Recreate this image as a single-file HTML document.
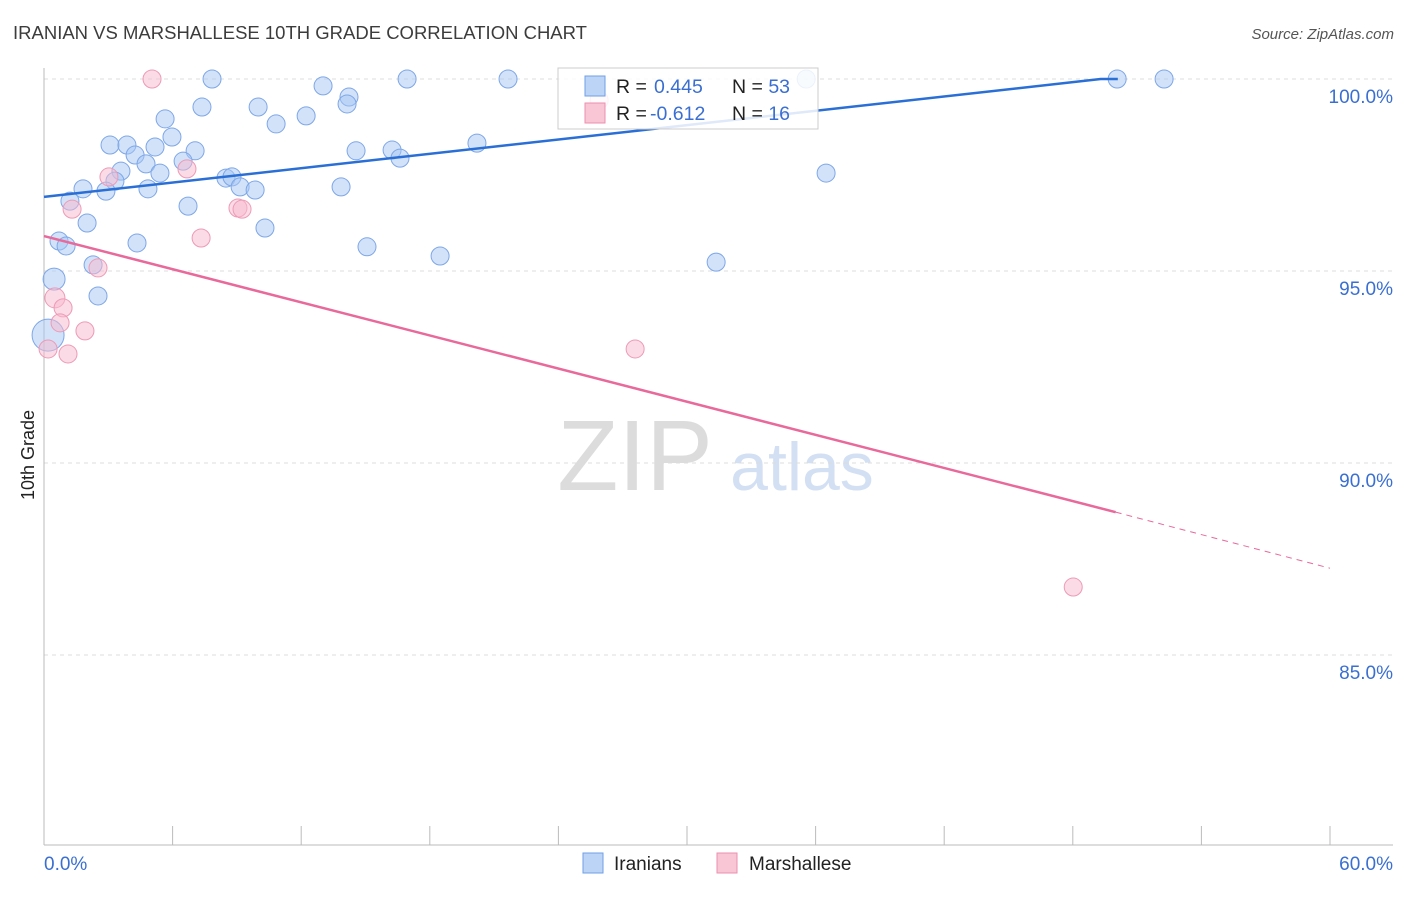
<!DOCTYPE html>
<html><head><meta charset="utf-8"><style>
body{margin:0;background:#fff;font-family:"Liberation Sans",sans-serif;}
svg text{font-family:"Liberation Sans",sans-serif;}
</style></head><body>
<svg id="c" width="1406" height="892">
<text x="13" y="39" font-size="18.5" fill="#3c3c3c">IRANIAN VS MARSHALLESE 10TH GRADE CORRELATION CHART</text>
<text x="1394" y="39" font-size="15" font-style="italic" fill="#555" text-anchor="end">Source: ZipAtlas.com</text>
<text x="635" y="490" font-size="100" font-family="Liberation Serif,serif" fill="#dcdcdc" text-anchor="middle">ZIP</text>
<text x="802" y="490" font-size="68" fill="#d3e0f3" text-anchor="middle">atlas</text>
<text transform="translate(34,455) rotate(-90)" font-size="18" fill="#222" text-anchor="middle">10th Grade</text>
<g id="grid"></g><g id="pts"></g><g id="lines"></g>
<g>
<rect x="558" y="68" width="260" height="61" fill="rgba(255,255,255,0.85)" stroke="#ccc"/>
<rect x="585" y="76" width="20" height="20" fill="#bcd4f6" stroke="#6f9fe6"/>
<rect x="585" y="103" width="20" height="20" fill="#f9c6d6" stroke="#ec8fae"/>
<text x="616" y="93" font-size="19.5" fill="#222">R = <tspan x="654" fill="#3a6fd1">0.445</tspan><tspan x="732">N = </tspan><tspan fill="#3a6fd1">53</tspan></text>
<text x="616" y="120" font-size="19.5" fill="#222">R = <tspan x="650" fill="#3a6fd1">-0.612</tspan><tspan x="732">N = </tspan><tspan fill="#3a6fd1">16</tspan></text>
</g>
<g>
<rect x="583" y="853" width="20" height="20" fill="#bcd4f6" stroke="#6f9fe6"/>
<text x="614" y="870" font-size="19" fill="#222">Iranians</text>
<rect x="717" y="853" width="20" height="20" fill="#f9c6d6" stroke="#ec8fae"/>
<text x="749" y="870" font-size="19" fill="#222">Marshallese</text>
</g>
</svg>
<script>
const yTicks=[100,95,90,85];
const xTickLabels=["0.0%","60.0%"];
const iranX=[7.84,13.02,16.94,21.65,35.56,50.07,52.26,14.23,14.14,7.37,9.99,5.65,10.83,12.23,5.97,3.08,3.87,5.18,4.25,7.05,6.49,4.76,3.59,5.41,3.31,8.49,8.77,9.15,9.85,2.89,4.85,1.82,14.56,16.24,16.61,20.2,13.86,36.49,1.21,6.72,2.01,10.31,0.7,1.03,4.34,15.07,18.48,31.36,2.29,0.47,2.52,0.19];
const iranY=[100,99.82,100,100,100,100,100,99.53,99.35,99.27,99.27,98.96,98.83,99.04,98.49,98.28,98.28,98.23,98.02,98.13,97.86,97.79,97.6,97.55,97.34,97.42,97.45,97.19,97.11,97.08,97.14,97.14,98.13,98.15,97.94,98.33,97.19,97.55,96.82,96.69,96.25,96.12,95.78,95.65,95.73,95.63,95.39,95.23,95.16,94.79,94.35,93.33];
const iranR=[9,9,9,9,9,9,9,9,9,9,9,9,9,9,9,9,9,9,9,9,9,9,9,9,9,9,9,9,9,9,9,9,9,9,9,9,9,9,9,9,9,9,9,9,9,9,9,9,9,11,9,16];
const marX=[5.04,25.9,6.67,3.03,1.31,9.05,9.24,7.33,2.52,0.51,0.89,0.75,1.91,0.19,1.12,27.58,48.02];
const marY=[100,99.45,97.66,97.45,96.61,96.64,96.61,95.86,95.08,94.3,94.04,93.65,93.44,92.97,92.84,92.97,86.77];
const marR=[9,9,9,9,9,9,9,9,9,10,9,9,9,9,9,9,9];
const iranTrend=[[0,96.93],[49.3,100],[50.1,100]];
const marTrend=[[0,95.91],[50,88.72]];
const marTrendDash=[[50,88.72],[60,87.26]];
const X=v=>44+v/60*1286, Y=v=>79+(100-v)*38.4;
const NS="http://www.w3.org/2000/svg";
function mk(t,a,p){const e=document.createElementNS(NS,t);for(const k in a)e.setAttribute(k,a[k]);p.appendChild(e);return e;}
const g=document.getElementById('grid'),P=document.getElementById('pts'),L=document.getElementById('lines');
yTicks.forEach(t=>{const l=mk('line',{x1:44,x2:1393,y1:Y(t),y2:Y(t),stroke:'#ddd','stroke-dasharray':'4,4'},g);


const tx=mk('text',{x:1393,y:Y(t)+24,'font-size':19,fill:'#3a6fd1','text-anchor':'end'},g);tx.textContent=t.toFixed(1)+'%';

});
const ax=mk('line',{x1:44,x2:1393,y1:845,y2:845,stroke:'#bbb'},g);


const ay=mk('line',{x1:44,x2:44,y1:68,y2:845,stroke:'#bbb'},g);


for(let i=0;i<=10;i++){const t=mk('line',{x1:X(i*6),x2:X(i*6),y1:826,y2:845,stroke:'#bbb'},g);

}
xTickLabels.forEach((s,i)=>{const t=mk('text',{x:i?1393:44,y:870,'font-size':19,fill:'#3a6fd1','text-anchor':i?'end':'start'},g);t.textContent=s;

});
iranX.forEach((v,i)=>{const c=mk('circle',{cx:X(v),cy:Y(iranY[i]),r:iranR[i],fill:'rgba(165,197,243,0.5)',stroke:'#7ea7e8','stroke-width':1},P);

});
marX.forEach((v,i)=>{const c=mk('circle',{cx:X(v),cy:Y(marY[i]),r:marR[i],fill:'rgba(248,185,206,0.5)',stroke:'#ee9ab6','stroke-width':1},P);

});
const pl=a=>a.map(p=>X(p[0])+','+Y(p[1])).join(' ');
const l1=mk('polyline',{points:pl(iranTrend),fill:'none',stroke:'#2a6fd6','stroke-width':2.5},L);


const l2=mk('polyline',{points:pl(marTrend),fill:'none',stroke:'#e8699a','stroke-width':2.5},L);


const l3=mk('polyline',{points:pl(marTrendDash),fill:'none',stroke:'#e8699a','stroke-width':1,'stroke-dasharray':'6,5'},L);


</script>
</body></html>
